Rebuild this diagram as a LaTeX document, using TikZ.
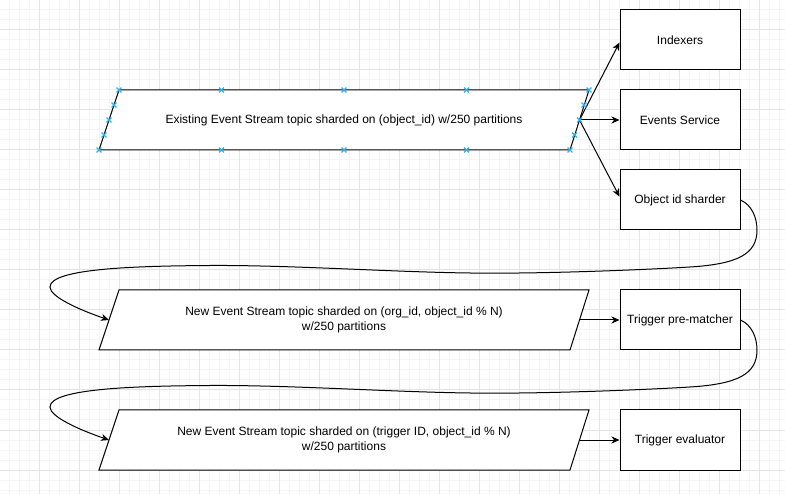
\documentclass[tikz,border=0pt]{standalone}
\usepackage{fontspec}
\setmainfont{Liberation Sans}
\usetikzlibrary{arrows.meta}
\definecolor{gridminor}{RGB}{245,245,245}
\definecolor{gridmajor}{RGB}{228,228,228}
\definecolor{handleblue}{RGB}{45,178,240}
\begin{document}
\begin{tikzpicture}[x=1pt,y=-1pt,
  box/.style={draw=black,fill=white,line width=1pt,minimum width=120pt,minimum height=60pt,inner sep=0pt,font=\fontsize{12}{14.5}\selectfont},
  ptext/.style={align=center,font=\fontsize{12}{14.5}\selectfont,inner sep=0pt},
  para/.style={draw=black,fill=white,line width=1pt},
  arr/.style={draw=black,line width=1pt,-{Stealth[length=8pt,width=7pt,inset=2.5pt]}},
  curve/.style={draw=black,line width=1pt,-{Stealth[length=8pt,width=7pt,inset=2.5pt]}},
  hmark/.style={draw=handleblue,line width=1.2pt},
  gminor/.style={draw=gridminor,line width=1pt},
  gmajor/.style={draw=gridmajor,line width=1pt}]
\useasboundingbox (0,0) rectangle (785,494);
\fill[white] (0,0) rectangle (785,494);
% grid
\foreach \x in {10,20,...,780} \draw[gminor] (\x-0.5,0) -- (\x-0.5,494);
\foreach \y in {10,20,...,490} \draw[gminor] (0,\y) -- (785,\y);
\foreach \x in {40,80,...,760} \draw[gmajor] (\x-0.5,0) -- (\x-0.5,494);
\foreach \y in {30,70,...,470} \draw[gmajor] (0,\y) -- (785,\y);

% boxes
\node[box] (idx) at (680,40) {Indexers};
\node[box] (evs) at (680,120) {Events Service};
\node[box] (ois) at (680,200) {Object id sharder};
\node[box] (tpm) at (680,320) {Trigger pre-matcher};
\node[box] (tev) at (680,440) {Trigger evaluator};

% parallelograms
\draw[para] (119,90) -- (589,90) -- (570,150) -- (99,150) -- cycle;
\node[ptext] (t1) at (344,120) {Existing Event Stream topic sharded on (object\_id) w/250 partitions};
\draw[para] (119,290) -- (589,290) -- (570,350) -- (99,350) -- cycle;
\node[ptext] (t2) at (344,320) {New Event Stream topic sharded on (org\_id, object\_id \% N)\\w/250 partitions};
\draw[para] (119,410) -- (589,410) -- (570,470) -- (99,470) -- cycle;
\node[ptext] (t3) at (344,440) {New Event Stream topic sharded on (trigger ID, object\_id \% N)\\w/250 partitions};

\coordinate (p1r) at (579.5,120);
\coordinate (p2l) at (109,320);
\coordinate (p2r) at (579.5,320);
\coordinate (p3l) at (109,440);
\coordinate (p3r) at (579.5,440);

% straight arrows
\draw[arr] (p1r) -- ([yshift=-2.5pt]idx.west);
\draw[arr] (p1r) -- (evs.west);
\draw[arr] (p1r) -- ([yshift=3.3pt]ois.west);
\draw[arr] (p2r) -- (tpm.west);
\draw[arr] (p3r) -- (tev.west);

% curved connectors
\draw[curve] (ois.east) .. controls (752,205) and (757,218) .. (757,230)
  .. controls (757,254) and (738,264) .. (690,267)
  .. controls (640,270) and (540,274) .. (470,273)
  .. controls (390,272) and (290,265) .. (210,265.5)
  .. controls (140,266) and (50,268) .. (50,287)
  .. controls (50,297) and (80,310) .. (p2l);
\draw[curve] (tpm.east) .. controls (752,325) and (757,338) .. (757,350)
  .. controls (757,374) and (738,384) .. (690,387)
  .. controls (640,390) and (540,394) .. (470,393)
  .. controls (390,392) and (290,385) .. (210,385.5)
  .. controls (140,386) and (50,388) .. (50,407)
  .. controls (50,417) and (80,430) .. (p3l);

% selection handles
\foreach \p in {(119,90),(221.5,90),(344,90),(466.5,90),(589,90),
                (99,150),(221.5,150),(344,150),(466.5,150),(570,150),
                (114,105),(109,120),(104,135),
                (584,105),(579.5,120),(574.5,135)}
  \draw[hmark] \p +(-2.4,-2.4) -- +(2.4,2.4) \p +(-2.4,2.4) -- +(2.4,-2.4);
\end{tikzpicture}
\end{document}
